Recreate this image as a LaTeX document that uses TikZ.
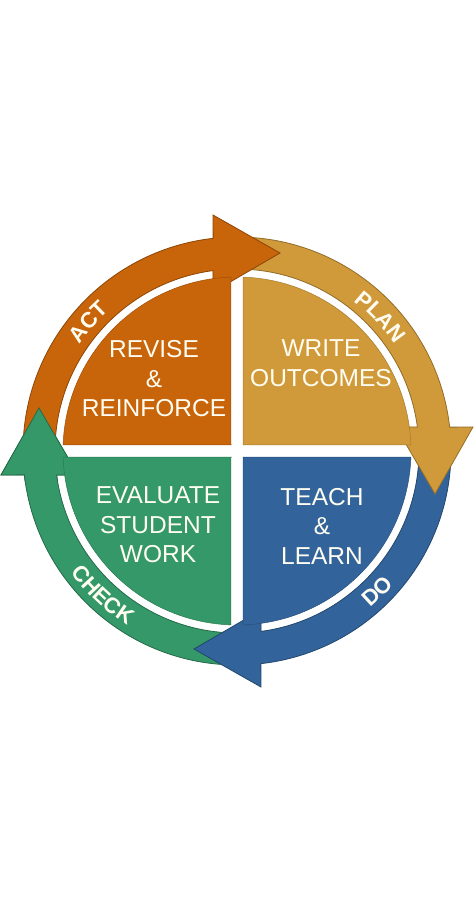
\documentclass[tikz,border=0pt]{standalone}
\usepackage{fontspec}
\setmainfont{Liberation Sans}
\usetikzlibrary{decorations.text}

\definecolor{actorange}{HTML}{C8640A}
\definecolor{plangold}{HTML}{D09A3A}
\definecolor{doblue}{HTML}{32649B}
\definecolor{checkgreen}{HTML}{349868}
\definecolor{textwhite}{HTML}{FFFDF2}

% one ring arrow (the ACT one), the others are rotated copies
\newcommand{\ringpath}{(180:182pt) -- (180:214pt)
  arc[start angle=180, end angle=96.4, radius=214pt]
  -- (-24,236) -- (43,198) -- (-24,159) -- (97.6:182pt)
  arc[start angle=97.6, end angle=180, radius=182pt] -- cycle}
\newcommand{\quarterpath}{(-6,6) -- (92:174pt)
  arc[start angle=92, end angle=178, radius=174pt] -- cycle}
\newcommand{\ringfont}{\bfseries\fontsize{22}{22}\selectfont}

\begin{document}
\begin{tikzpicture}[x=1pt,y=1pt,
  ring/.style={line width=0.8pt},
  quarter/.style={line width=0.5pt},
  inner text/.style={text=textwhite, align=center,
    font=\fontsize{24.5}{29.5}\selectfont},
  ring label/.style={decorate,
    decoration={text along path, text align=center, text color=textwhite}}]
  \useasboundingbox (-237,-451) rectangle (237,451);

  % ring arrows
  \foreach \ang/\col in {90/checkgreen,180/doblue,270/plangold,0/actorange}
    \draw[ring, fill=\col, draw=\col!70!black, rotate=\ang] \ringpath;
  \begin{scope}[rotate=90]
    \clip (-30,140) rectangle (60,250);
    \draw[ring, fill=checkgreen, draw=checkgreen!70!black] \ringpath;
  \end{scope}

  % quarters
  \foreach \ang/\col in {0/actorange,270/plangold,180/doblue,90/checkgreen}
    \draw[quarter, fill=\col, draw=\col!80!black, rotate=\ang] \quarterpath;

  \node[inner text] (revise) at (-83,72) {REVISE\\\&\\REINFORCE};
  \node[inner text] (write) at (84,88) {WRITE\\OUTCOMES};
  \node[inner text] (evaluate) at (-79,-74) {EVALUATE\\STUDENT\\WORK};
  \node[inner text] (teach) at (85,-75) {TEACH\\\&\\LEARN};

  % labels on the ring
  \path[ring label, decoration={text={|\ringfont|ACT}}]
    (179:190pt) arc[start angle=179, end angle=99, radius=190pt];
  \path[ring label, decoration={text={|\ringfont|PLAN}}]
    (83:190pt) arc[start angle=83, end angle=3, radius=190pt];
  \path[ring label, decoration={text={|\ringfont|DO}}]
    (-85:206pt) arc[start angle=-85, end angle=-5, radius=206pt];
  \path[ring label, decoration={text={|\ringfont|CHECK}}]
    (-173:206pt) arc[start angle=-173, end angle=-93, radius=206pt];
\end{tikzpicture}
\end{document}
